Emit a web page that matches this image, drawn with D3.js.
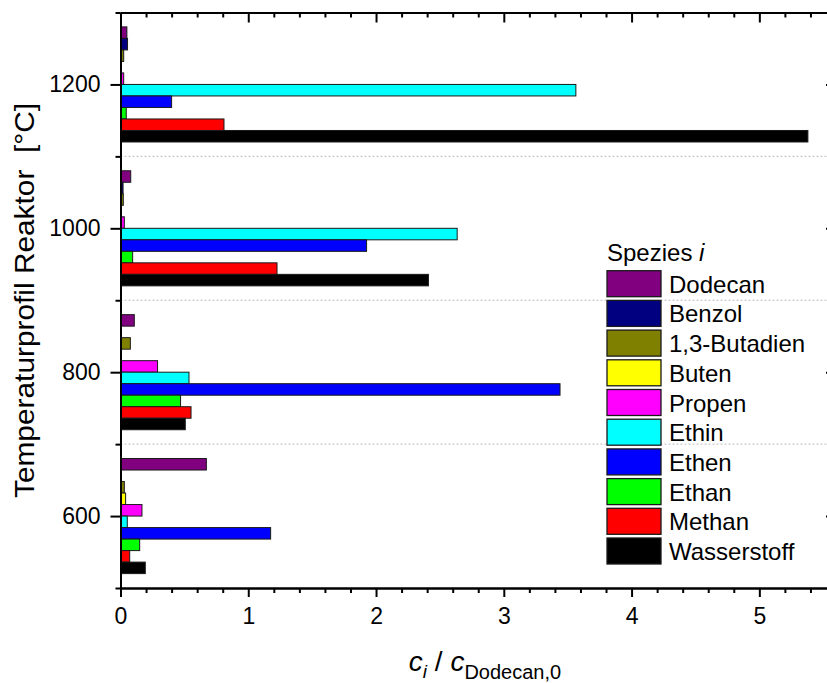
<!DOCTYPE html>
<html>
<head>
<meta charset="utf-8">
<script src="https://cdn.jsdelivr.net/npm/d3@7"></script>
<style>
  body { margin: 0; background: #fff; }
  svg { display: block; font-family: "Liberation Sans", Arial, sans-serif; }
</style>
</head>
<body>
<svg id="chart" width="827" height="683"></svg>
<script>
// Reactor temperature stages (°C)
const temperatures = [600, 800, 1000, 1200];

// Species, listed top-to-bottom within each temperature group
const species = ["Dodecan", "Benzol", "1,3-Butadien", "Buten", "Propen",
                 "Ethin", "Ethen", "Ethan", "Methan", "Wasserstoff"];
const speciesColors = ["#800080", "#000080", "#808000", "#ffff00", "#ff00ff",
                       "#00ffff", "#0000ff", "#00ff00", "#ff0000", "#000000"];

// c_i / c_Dodecan,0 for each species, one entry per temperature (600, 800, 1000, 1200)
const dodecan     = [0.672, 0.108, 0.080, 0.050];
const benzol      = [0.000, 0.000, 0.020, 0.055];
const butadien    = [0.030, 0.077, 0.022, 0.025];
const buten       = [0.040, 0.000, 0.000, 0.000];
const propen      = [0.168, 0.290, 0.030, 0.025];
const ethin       = [0.053, 0.536, 2.635, 3.564];
const ethen       = [1.175, 3.440, 1.926, 0.400];
const ethan       = [0.150, 0.470, 0.095, 0.045];
const methan      = [0.072, 0.552, 1.225, 0.810];
const wasserstoff = [0.194, 0.507, 2.410, 5.380];

const seriesValues = [dodecan, benzol, butadien, buten, propen,
                      ethin, ethen, ethan, methan, wasserstoff];

const yMajorTicks = [600, 800, 1000, 1200];
const xMajorTicks = [0, 1, 2, 3, 4, 5];

const svg = d3.select("#chart");
const plotLeft = 120.5, plotRight = 836, plotTop = 12.5, plotBottom = 588;

const x = d3.scaleLinear().domain([0, 5.6]).range([plotLeft, plotRight]);
const y = d3.scaleLinear().domain([500, 1300]).range([plotBottom, plotTop]);

// each temperature group spans ±80 °C, split into one band per species
const groupHalf = 80;
const inner = d3.scaleBand().domain(species)
  .range([0, y(1300 - groupHalf) - y(1300 + groupHalf)]).padding(0);

// dotted grid lines at the minor temperature ticks
svg.append("g").selectAll("line")
  .data([700, 900, 1100])
  .join("line")
  .attr("x1", plotLeft).attr("x2", plotRight)
  .attr("y1", d => y(d)).attr("y2", d => y(d))
  .attr("stroke", "#bdbdbd").attr("stroke-width", 1)
  .attr("stroke-dasharray", "2,2");

// bars
const barData = [];
temperatures.forEach((t, ti) => {
  species.forEach((s, si) => {
    barData.push({ t, s, color: speciesColors[si], v: seriesValues[si][ti] });
  });
});

svg.append("g").selectAll("rect")
  .data(barData.filter(d => d.v > 0))
  .join("rect")
  .attr("x", x(0))
  .attr("y", d => y(d.t + groupHalf) + inner(d.s))
  .attr("width", d => x(d.v) - x(0))
  .attr("height", inner.bandwidth())
  .attr("fill", d => d.color)
  .attr("stroke", "#1a1a1a")
  .attr("stroke-width", 1);

// axes
const yMinor = d3.range(500, 1301, 100).filter(v => !yMajorTicks.includes(v));
const xMinor = d3.range(0, 5.61, 0.2).map(v => +v.toFixed(1)).filter(v => !xMajorTicks.includes(v));

function styleAxis(g) {
  g.select(".domain").attr("stroke", "#000").attr("stroke-width", 2);
  g.selectAll(".tick line").attr("stroke", "#000").attr("stroke-width", 2);
}

// left axis
svg.append("g").attr("transform", `translate(${plotLeft},0)`)
  .call(d3.axisLeft(y).tickValues(yMinor).tickSize(5).tickFormat("").tickSizeOuter(0))
  .call(styleAxis);
const yAxis = svg.append("g").attr("transform", `translate(${plotLeft},0)`)
  .call(d3.axisLeft(y).tickValues(yMajorTicks).tickSize(10).tickPadding(10)
        .tickFormat(d3.format("d")).tickSizeOuter(0))
  .call(styleAxis);
yAxis.selectAll(".tick text")
  .attr("font-size", 23).attr("fill", "#000")
  .attr("font-family", "'Liberation Sans', Arial, sans-serif");

// right axis (mirrored ticks pointing inward)
svg.append("g").attr("transform", `translate(${plotRight},0)`)
  .call(d3.axisRight(y).tickValues(yMinor).tickSize(-5).tickFormat("").tickSizeOuter(0))
  .call(styleAxis);
svg.append("g").attr("transform", `translate(${plotRight},0)`)
  .call(d3.axisRight(y).tickValues(yMajorTicks).tickSize(-10).tickFormat("").tickSizeOuter(0))
  .call(styleAxis);

// bottom axis
svg.append("g").attr("transform", `translate(0,${plotBottom})`)
  .call(d3.axisBottom(x).tickValues(xMinor).tickSize(5).tickFormat("").tickSizeOuter(0))
  .call(styleAxis);
const xAxis = svg.append("g").attr("transform", `translate(0,${plotBottom})`)
  .call(d3.axisBottom(x).tickValues(xMajorTicks).tickSize(9).tickPadding(11)
        .tickFormat(d3.format("d")).tickSizeOuter(0))
  .call(styleAxis);
xAxis.selectAll(".tick text")
  .attr("font-size", 23).attr("fill", "#000")
  .attr("font-family", "'Liberation Sans', Arial, sans-serif");

// top axis (mirrored ticks pointing inward)
svg.append("g").attr("transform", `translate(0,${plotTop})`)
  .call(d3.axisTop(x).tickValues(xMinor).tickSize(-5).tickFormat("").tickSizeOuter(0))
  .call(styleAxis);
svg.append("g").attr("transform", `translate(0,${plotTop})`)
  .call(d3.axisTop(x).tickValues(xMajorTicks).tickSize(-10).tickFormat("").tickSizeOuter(0))
  .call(styleAxis);

// y axis title
svg.append("text")
  .attr("transform", `translate(34,300.5) rotate(-90)`)
  .attr("text-anchor", "middle")
  .attr("font-size", 28.5)
  .attr("fill", "#000")
  .attr("textLength", 395)
  .attr("lengthAdjust", "spacingAndGlyphs")
  .style("white-space", "pre")
  .text("Temperaturprofil Reaktor  [°C]");

// x axis title: c_i / c_Dodecan,0
const xt = svg.append("text")
  .attr("x", 485).attr("y", 671)
  .attr("text-anchor", "middle")
  .attr("font-size", 28)
  .attr("fill", "#000")
  .style("white-space", "pre");
xt.append("tspan").attr("font-style", "italic").text("c");
xt.append("tspan").attr("font-style", "italic").attr("font-size", 19).attr("dy", 7).text("i");
xt.append("tspan").attr("dy", -7).text(" / ");
xt.append("tspan").attr("font-style", "italic").text("c");
xt.append("tspan").attr("font-size", 20).attr("dy", 8).text("Dodecan,0");

// legend
const legend = svg.append("g").attr("transform", "translate(607,0)");
const legendTitle = legend.append("text")
  .attr("x", 0).attr("y", 261)
  .attr("font-size", 24).attr("fill", "#000")
  .style("white-space", "pre");
legendTitle.append("tspan").text("Spezies ");
legendTitle.append("tspan").attr("font-style", "italic").text("i");

const legendStep = 29.7;
const items = legend.selectAll("g.item")
  .data(species.map((s, i) => ({ s, color: speciesColors[i], i })))
  .join("g").attr("class", "item")
  .attr("transform", d => `translate(0,${270.7 + d.i * legendStep})`);
items.append("rect")
  .attr("width", 54).attr("height", 26)
  .attr("fill", d => d.color)
  .attr("stroke", "#1a1a1a").attr("stroke-width", 1.3);
items.append("text")
  .attr("x", 62).attr("y", 22)
  .attr("font-size", 24).attr("fill", "#000")
  .text(d => d.s);
</script>
</body>
</html>
